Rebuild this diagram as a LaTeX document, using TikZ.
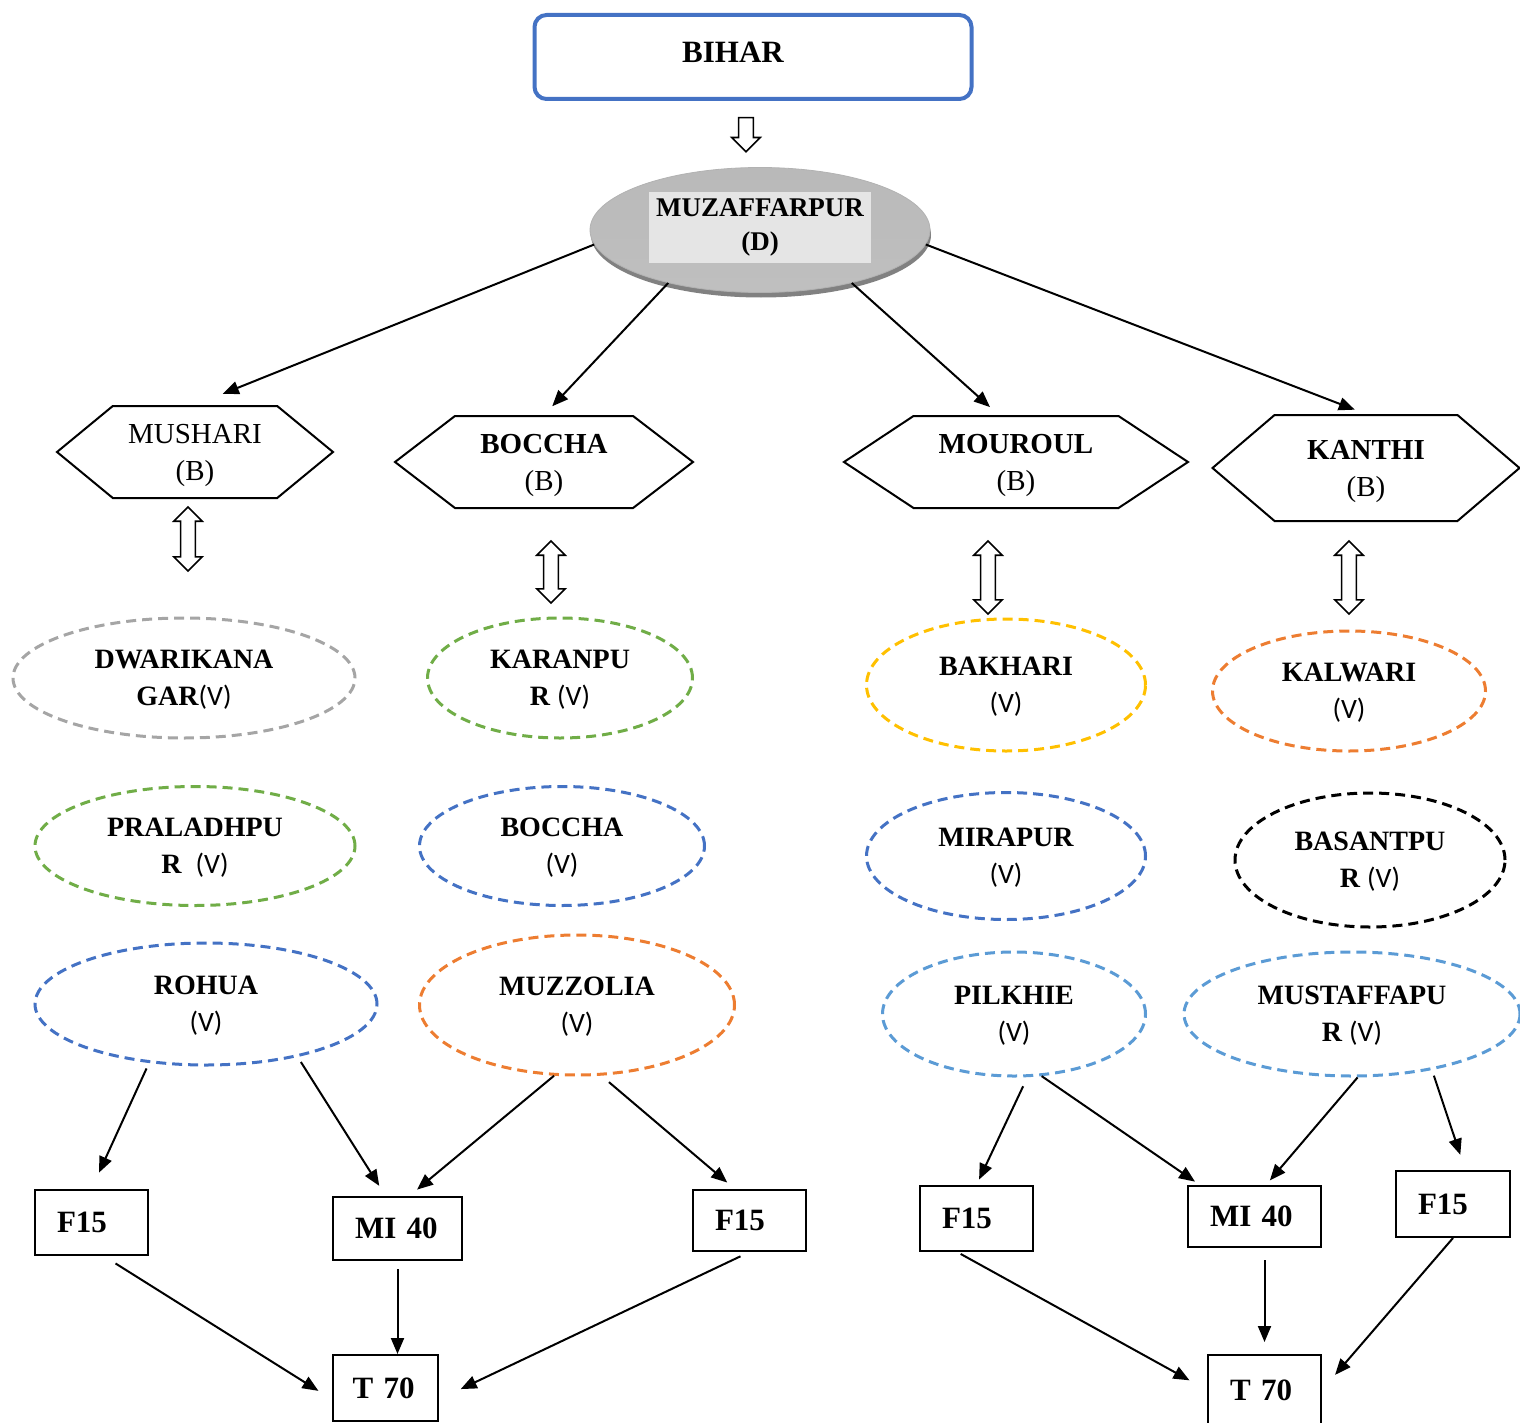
\documentclass[tikz,border=0pt]{standalone}
\usepackage{fontspec}
\setmainfont{Liberation Serif}
\newfontfamily\carl{Carlito}
\usetikzlibrary{shapes.geometric,shapes.symbols,shapes.arrows,arrows.meta,shadows}
\definecolor{wgray}{HTML}{A5A5A5}
\definecolor{wgreen}{HTML}{70AD47}
\definecolor{wblue}{HTML}{4472C4}
\definecolor{worange}{HTML}{ED7D31}
\definecolor{wyellow}{HTML}{FFC000}
\definecolor{wlblue}{HTML}{5B9BD5}
\newcommand{\vtag}{{\carl\mdseries(V)}}

\begin{document}
\begin{tikzpicture}[x=0.5pt,y=-0.5pt,
  hexa/.style={signal, signal to=west and east, draw, line width=1pt, inner sep=0pt, text depth=0pt, align=center, font=\fontsize{14.5}{18.5}\selectfont},
  vill/.style={ellipse, draw=#1, line width=1.5pt, dash pattern=on 5pt off 3pt, inner sep=0pt, text depth=0pt, align=center, font=\fontsize{14}{18.5}\selectfont\bfseries},
  box/.style={draw, line width=1pt, inner xsep=11pt, inner ysep=0pt, text width=#1, align=left, font=\fontsize{15.5}{18}\selectfont\bfseries},
  conn/.style={-{Triangle[length=8pt,width=6.5pt]}, line width=1pt},
  dbl/.style={double arrow, draw, line width=0.8pt, fill=white, shape border rotate=90, inner xsep=3.3pt, inner ysep=0pt, minimum width=13.5pt, double arrow head extend=3.4pt, minimum height=#1}
]
\useasboundingbox (0,0) rectangle (1520,1423);

\node[draw=wblue, line width=2pt, rounded corners=6pt, minimum width=218.5pt, minimum height=42pt] (bihar) at (753,57) {};
\node[font=\fontsize{15.5}{18}\selectfont\bfseries] (biharlbl) at (733,52) {BIHAR};
\node[single arrow, draw, line width=0.8pt, shape border rotate=270, inner xsep=3.3pt, inner ysep=0pt, minimum width=13.5pt, single arrow head extend=3.4pt, minimum height=17pt] (down) at (746,131) {};

\node[ellipse, minimum width=170pt, minimum height=62.5pt, draw=gray!60, top color=gray!55, middle color=gray!78, bottom color=gray!50,
  drop shadow={shadow xshift=0.5pt, shadow yshift=-2.5pt, opacity=0.7, fill=gray!60!black}] (muz) at (760,230) {};
\node[fill=gray!20, minimum width=109pt, minimum height=33.5pt, align=center, font=\fontsize{13.5}{17}\selectfont\bfseries] (muzlbl) at (760,227.5) {MUZAFFARPUR\\(D)};

\node[hexa, minimum width=138pt, minimum height=46pt, signal pointer angle=79] (mushari) at (195,452) {MUSHARI\\(B)};
\node[hexa, minimum width=149pt, minimum height=46pt, signal pointer angle=75] (boccha) at (544,462) {\textbf{BOCCHA}\\(B)};
\node[hexa, minimum width=172pt, minimum height=46pt, signal pointer angle=67] (mouroul) at (1016,462) {\textbf{MOUROUL}\\(B)};
\node[hexa, minimum width=153.5pt, minimum height=53pt, signal pointer angle=81] (kanthi) at (1366,468) {\textbf{KANTHI}\\(B)};

\node[dbl=32pt] (da1) at (188,539) {};
\node[dbl=31pt] (da2) at (551,572) {};
\node[dbl=36.5pt] (da3) at (988,577.5) {};
\node[dbl=36.5pt] (da4) at (1349,577.5) {};

\node[vill=wgray, minimum width=171pt, minimum height=60pt] (dwarika) at (184,678) {DWARIKANA\\GAR\vtag};
\node[vill=wgreen, minimum width=160pt, minimum height=59.5pt] (praladh) at (195,846) {PRALADHPU\\R~~\vtag};
\node[vill=wblue, minimum width=171pt, minimum height=61pt] (rohua) at (206,1004) {ROHUA\\\vtag};
\node[vill=wgreen, minimum width=132.5pt, minimum height=60pt] (karan) at (560,678) {KARANPU\\R \vtag};
\node[vill=wblue, minimum width=142.5pt, minimum height=59.5pt] (bocchav) at (562,846) {BOCCHA\\\vtag};
\node[vill=worange, minimum width=157.5pt, minimum height=70pt] (muzzo) at (577,1005) {MUZZOLIA\\\vtag};
\node[vill=wyellow, minimum width=139.5pt, minimum height=66pt] (bakhari) at (1006,685) {BAKHARI\\\vtag};
\node[vill=wblue, minimum width=139.5pt, minimum height=63.5pt] (mirapur) at (1006,856) {MIRAPUR\\\vtag};
\node[vill=wlblue, minimum width=131.5pt, minimum height=62pt] (pilkhie) at (1014,1014) {PILKHIE\\\vtag};
\node[vill=worange, minimum width=136.5pt, minimum height=60pt] (kalwari) at (1349,691) {KALWARI\\\vtag};
\node[vill=black, minimum width=135pt, minimum height=67pt] (basant) at (1370,860) {BASANTPU\\R \vtag};
\node[vill=wlblue, minimum width=168pt, minimum height=62pt] (mustaf) at (1352,1014) {MUSTAFFAPU\\R \vtag};

\node[box=34.5pt, minimum height=32.5pt] (fa) at (91.5,1222.5) {F15};
\node[box=42.5pt, minimum height=31.5pt] (mia) at (397.5,1228.5) {MI 40};
\node[box=34.5pt, minimum height=30.5pt] (fb) at (749.5,1220.5) {F15};
\node[box=33pt, inner xsep=9.75pt, minimum height=33pt] (ta) at (385.5,1388) {T 70};
\node[box=34.5pt, minimum height=32.5pt] (fc) at (976.5,1218.5) {F15};
\node[box=44.5pt, minimum height=30.5pt] (mib) at (1254.5,1216.5) {MI 40};
\node[box=35pt, minimum height=33pt] (fd) at (1453,1204) {F15};
\node[box=34.5pt, minimum height=35pt] (tb) at (1264.5,1390) {T 70};

\draw[conn, shorten >=15pt] (muz.185) -- (mushari.north);
\draw[conn, shorten >=6pt] (muz.210) -- (boccha.north);
\draw[conn, shorten >=6pt] (muz.330) -- (mouroul.110);
\draw[conn, shorten >=6pt] (muz.-5) -- (kanthi.north);

\draw[conn, shorten <=3pt, shorten >=9pt] (rohua.226) -- (fa.north);
\draw[conn, shorten <=3pt, shorten >=6pt] (rohua.330) -- (mia.110);
\draw[conn, shorten >=5pt] (muzzo.252) -- (mia.70);
\draw[conn, shorten <=5pt, shorten >=5pt] (muzzo.289) -- (fb.115);
\draw[conn, shorten <=7pt, shorten >=8pt] (fa.290) -- (ta.192);
\draw[conn, shorten <=4pt] (mia.south) -- (mia.south |- ta.north);
\draw[conn, shorten <=5pt, shorten >=12pt] (fb.south) -- (ta.-12);

\draw[conn, shorten <=5pt, shorten >=3pt] (pilkhie.282) -- (fc.north);
\draw[conn, shorten >=3pt] (pilkhie.294) -- (mib.150);
\draw[conn, shorten >=3pt] (mustaf.275) -- (mib.70);
\draw[conn, shorten <=3pt, shorten >=8pt] (mustaf.325) -- (fd.70);
\draw[conn, shorten <=2pt, shorten >=10pt] (fc.240) -- (tb.west);
\draw[conn, shorten <=6pt, shorten >=6pt] (tb.north |- mib.south) -- (tb.north);
\draw[conn, shorten >=10pt] (fd.south) -- (tb.east);
\end{tikzpicture}
\end{document}
